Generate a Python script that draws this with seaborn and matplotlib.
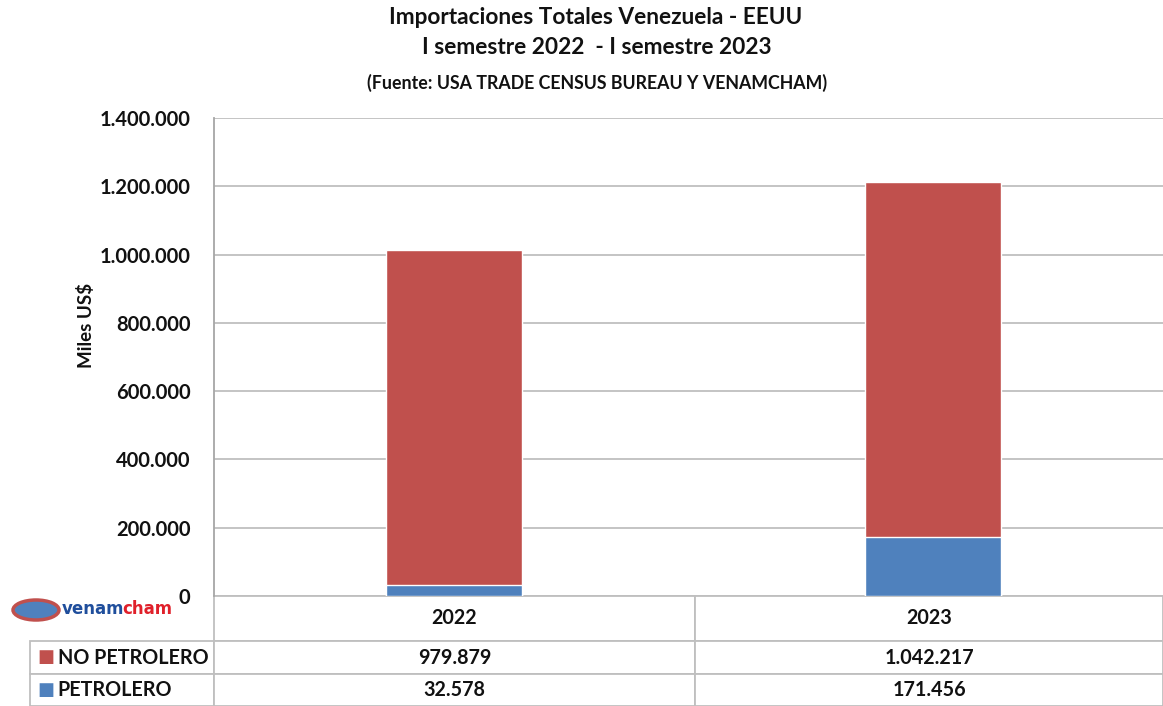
import pandas as pd
import matplotlib.pyplot as plt
import seaborn as sns
from matplotlib.ticker import FuncFormatter
from matplotlib.patches import Ellipse

# Datos (miles de US$)
anios = ["2022", "2023"]
no_petrolero = [979879, 1042217]
petrolero = [32578, 171456]
series = ["NO PETROLERO", "PETROLERO"]

ROJO = "#C0504D"
AZUL = "#4F81BD"
GRIS = "#BFBFBF"

sns.set_style("white")
plt.rcParams["font.family"] = ["Lato", "DejaVu Sans"]
plt.rcParams["font.weight"] = "bold"

df = pd.DataFrame({"anio": anios, "no_petrolero": no_petrolero, "petrolero": petrolero})
df["total"] = df["no_petrolero"] + df["petrolero"]


def miles(v):
    return f"{int(v):,}".replace(",", ".")


fig = plt.figure(figsize=(11.63, 7.06), dpi=100)
ax = fig.add_axes([214 / 1163, 1 - 596 / 706, 949 / 1163, 478 / 706])

# barras apiladas: total en rojo, petrolero en azul encima
sns.barplot(data=df, x="anio", y="total", color=ROJO, saturation=1, width=0.283, ax=ax)
sns.barplot(data=df, x="anio", y="petrolero", color=AZUL, saturation=1, width=0.283, ax=ax)

ax.set_xlim(-0.5, 1.479)
ax.set_ylim(0, 1400000)
ax.set_yticks(range(0, 1400001, 200000))
ax.yaxis.set_major_formatter(FuncFormatter(lambda v, p: miles(v)))
ax.tick_params(axis="y", length=0, pad=17, labelsize=14.5, labelcolor="#111111")
for lab in ax.get_yticklabels():
    lab.set_fontweight("bold")
ax.set_xticks([])
ax.set_xlabel("")
ax.set_ylabel("Miles US$", fontsize=13.5, fontweight="bold", color="#111111")
ax.yaxis.set_label_coords(-0.125, 0.567)
ax.yaxis.grid(True, color=GRIS, lw=1.3)
ax.set_axisbelow(True)
for s in ["top", "right", "bottom"]:
    ax.spines[s].set_visible(False)
ax.spines["left"].set_color("#A6A6A6")
ax.spines["left"].set_linewidth(1.3)

# tabla de datos debajo del gráfico
cell_text = [[""] + anios,
             [series[0]] + [miles(v) for v in no_petrolero],
             [series[1]] + [miles(v) for v in petrolero]]
tabla = ax.table(cellText=cell_text, cellLoc="center",
                 colWidths=[184, 481, 468],
                 bbox=[(30 - 214) / 949, -110 / 478, 1133 / 949, 110 / 478])
tabla.auto_set_font_size(False)
tabla.set_fontsize(14.2)
alturas = [45, 33, 32]
for (r, c), cell in tabla.get_celld().items():
    cell.set_edgecolor(GRIS)
    cell.set_linewidth(1.3)
    cell.set_height(alturas[r])
    cell.get_text().set_fontweight("bold")
    cell.get_text().set_color("#111111")
    if c == 0:
        cell._loc = "left"
        cell.PAD = 0.15
        cell.get_text().set_ha("left")
tabla[0, 0].visible_edges = ""

# marcadores de leyenda en la tabla
ax.text((37 - 214) / 949, -61 / 478, "■", color=ROJO, fontsize=13, va="center", ha="left",
        transform=ax.transAxes, family="DejaVu Sans")
ax.text((37 - 214) / 949, -94 / 478, "■", color=AZUL, fontsize=13, va="center", ha="left",
        transform=ax.transAxes, family="DejaVu Sans")

# títulos
fig.text(0.512, 1 - 18 / 706, "Importaciones Totales Venezuela - EEUU", ha="center", va="center",
         fontsize=16.3, fontweight="bold", color="#111111")
fig.text(0.513, 1 - 47 / 706, "I semestre 2022  - I semestre 2023", ha="center", va="center",
         fontsize=16.3, fontweight="bold", color="#111111")
fig.text(0.513, 1 - 83 / 706, "(Fuente: USA TRADE CENSUS BUREAU Y VENAMCHAM)", ha="center", va="center",
         fontsize=12.8, fontweight="bold", color="#111111")

# logo
fig.patches.append(Ellipse((36 / 1163, 1 - 610 / 706), 46 / 1163, 20 / 706, transform=fig.transFigure,
                           facecolor=AZUL, edgecolor=ROJO, lw=2.5))
venam = fig.text(62 / 1163, 1 - 609 / 706, "venam", color="#1F4E9C", fontsize=12, fontweight="bold",
                 va="center", ha="left", family="DejaVu Sans")
ax.annotate("cham", xy=(1, 0), xycoords=venam, xytext=(-1.5, 0), textcoords="offset points",
            va="bottom", ha="left", color="#E0202A",
            fontsize=12, fontweight="bold", family="DejaVu Sans", annotation_clip=False)

fig.savefig("out.png", dpi=100)
